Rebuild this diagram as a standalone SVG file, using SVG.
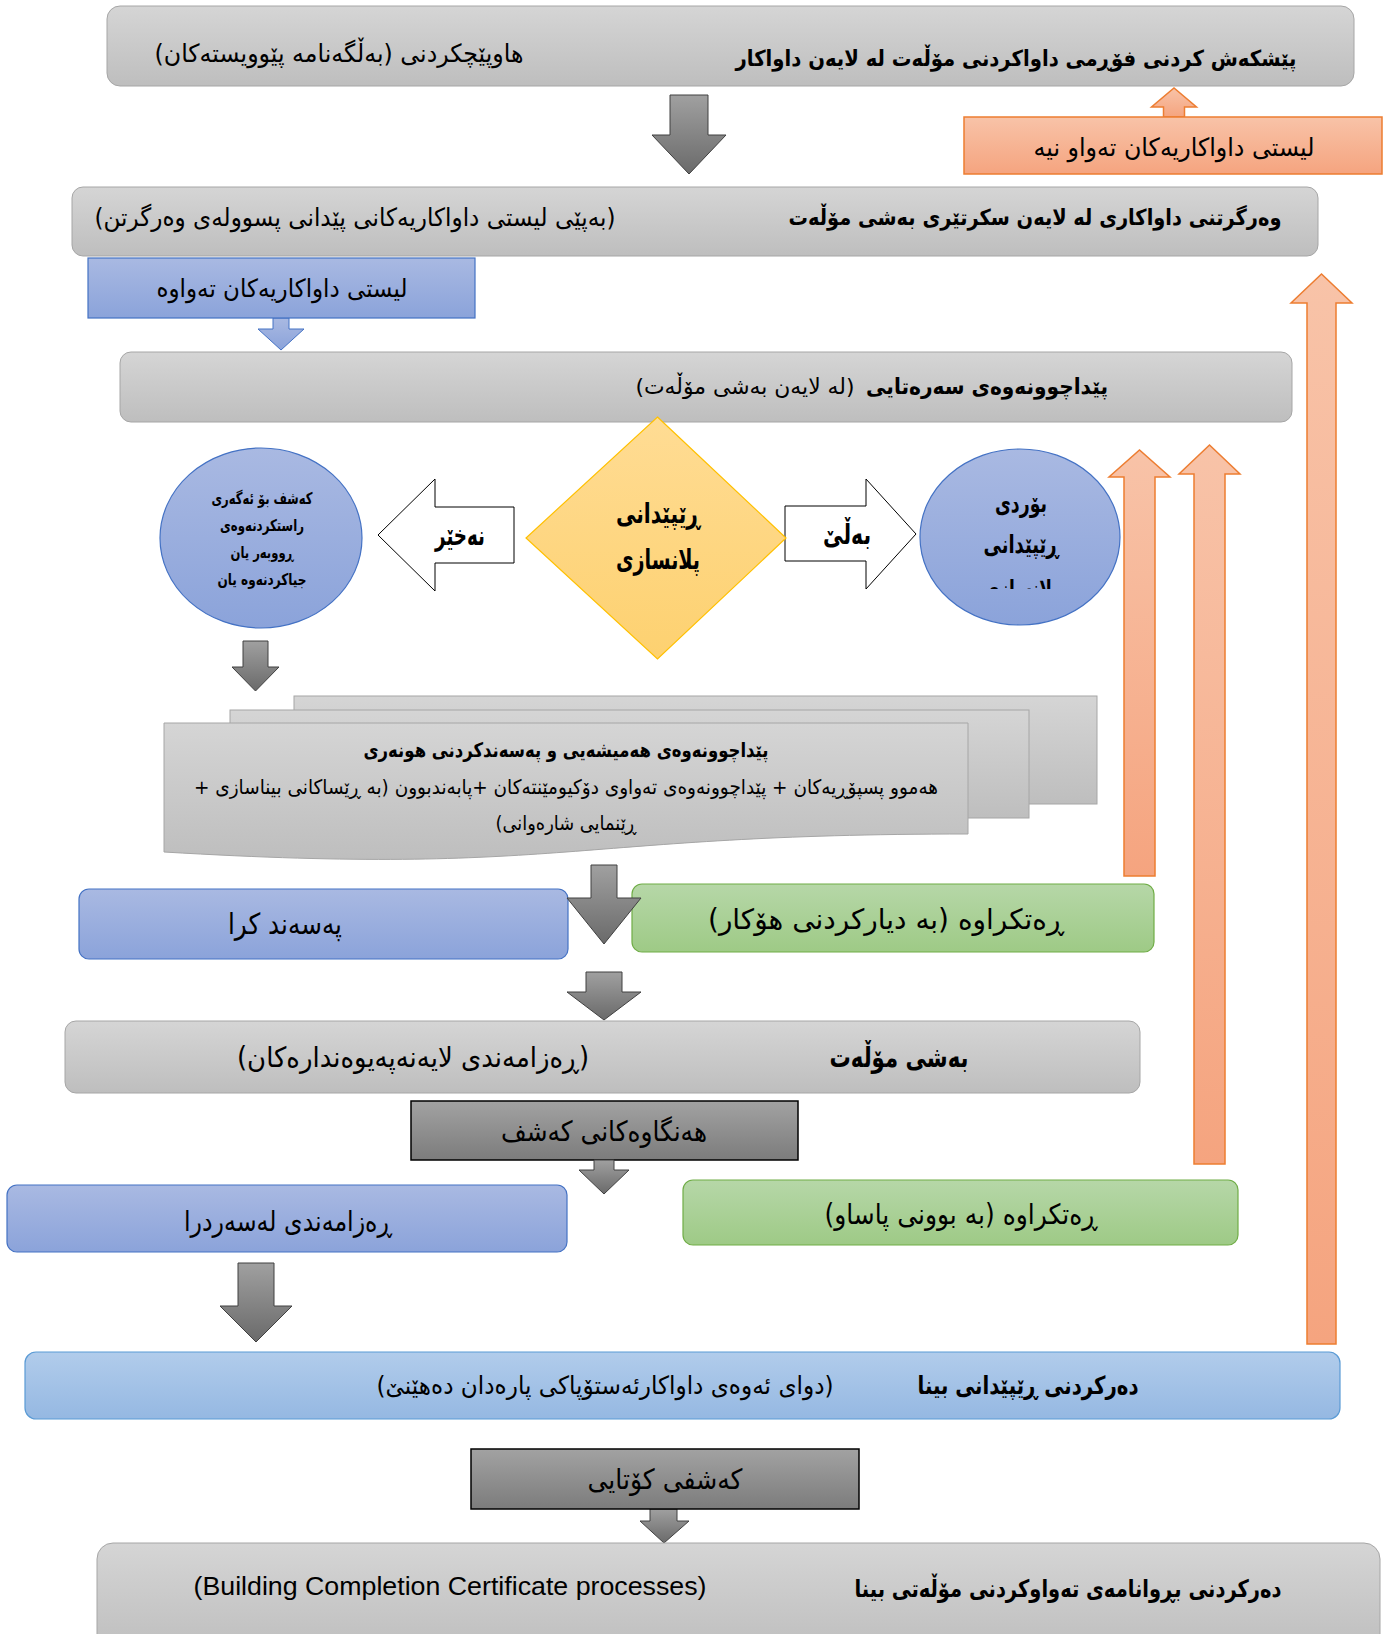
<svg xmlns="http://www.w3.org/2000/svg" width="1385" height="1634" viewBox="0 0 1385 1634">
<style>
.k{font-family:"DejaVu Sans",sans-serif;direction:rtl;text-anchor:middle;dominant-baseline:middle;fill:#000}
.b{font-weight:bold}
.gray{fill:url(#gGray);stroke:#A6A6A6;stroke-width:1}
.blue{fill:url(#gBlue);stroke:#4472C4;stroke-width:1.2}
.green{fill:url(#gGreen);stroke:#70AD47;stroke-width:1.2}
.dark{fill:url(#gDark);stroke:#000;stroke-width:1.5}
.garrow{fill:url(#gArrow);stroke:#404040;stroke-width:1}
.oarrow{fill:url(#gOrange);stroke:#ED7D31;stroke-width:1.5}
.warrow{fill:#fff;stroke:#000;stroke-width:1}
</style>
<defs>
<linearGradient id="gGray" x1="0" y1="0" x2="0" y2="1"><stop offset="0" stop-color="#D5D5D5"/><stop offset="1" stop-color="#BEBEBE"/></linearGradient>
<linearGradient id="gBlue" x1="0" y1="0" x2="0" y2="1"><stop offset="0" stop-color="#A9B9E2"/><stop offset="1" stop-color="#8BA3DA"/></linearGradient>
<linearGradient id="gLBlue" x1="0" y1="0" x2="0" y2="1"><stop offset="0" stop-color="#B1CCEB"/><stop offset="1" stop-color="#95B8E2"/></linearGradient>
<linearGradient id="gGreen" x1="0" y1="0" x2="0" y2="1"><stop offset="0" stop-color="#B6D7A8"/><stop offset="1" stop-color="#9ECA86"/></linearGradient>
<linearGradient id="gDark" x1="0" y1="0" x2="0" y2="1"><stop offset="0" stop-color="#A2A2A2"/><stop offset="1" stop-color="#7C7C7C"/></linearGradient>
<linearGradient id="gArrow" x1="0" y1="0" x2="0" y2="1"><stop offset="0" stop-color="#A0A0A0"/><stop offset="1" stop-color="#6A6A6A"/></linearGradient>
<linearGradient id="gOrange" x1="0" y1="0" x2="0" y2="1"><stop offset="0" stop-color="#F8C3A8"/><stop offset="1" stop-color="#F5A47F"/></linearGradient>
<linearGradient id="gYellow" x1="0" y1="0" x2="0" y2="1"><stop offset="0" stop-color="#FFDC94"/><stop offset="1" stop-color="#FDD170"/></linearGradient>
<clipPath id="cClip"><rect x="900" y="440" width="240" height="149"/></clipPath>
</defs>

<g id="connectors">
<polygon class="garrow" points="670,95 708,95 708,135 726,135 689,174 652,135 670,135"/>
<polygon class="oarrow" points="1163.5,117 1163.5,107 1151.5,107 1174,88 1196.5,107 1184.5,107 1184.5,117"/>
<polygon fill="url(#gBlue)" stroke="#4472C4" stroke-width="1" points="273,318 289,318 289,329 304,329 281,350 258,329 273,329"/>
<polygon class="warrow" points="514,507 435,507 435,479 378,535 435,591 435,563 514,563"/>
<polygon class="warrow" points="785,506 866,506 866,479 916,534 866,589 866,561 785,561"/>
<polygon class="garrow" points="243,641 268,641 268,667 279,667 255.5,691 232,667 243,667"/>
<polygon class="oarrow" points="1124,876 1124,477 1109,477 1139.5,450 1170,477 1155,477 1155,876"/>
<polygon class="oarrow" points="1194,1164 1194,474 1179,474 1209.5,445 1240,474 1225,474 1225,1164"/>
<polygon class="oarrow" points="1307,1344 1307,303 1291,303 1321.5,274 1352,303 1336,303 1336,1344"/>
</g>

<g id="n1">
<rect class="gray" x="107" y="6" width="1247" height="80" rx="13"/>
<text class="k b" x="1016" y="60" font-size="22" textLength="561" lengthAdjust="spacingAndGlyphs">پێشکەش کردنی فۆڕمی داواکردنی مۆڵەت لە لایەن داواکار</text>
<text class="k" x="339" y="55" font-size="25" textLength="369" lengthAdjust="spacingAndGlyphs">هاوپێچکردنی (بەڵگەنامە پێوویستەکان)</text>
</g>

<g id="n_incomplete">
<rect x="964" y="117" width="418" height="57" fill="url(#gOrange)" stroke="#ED7D31" stroke-width="1.5"/>
<text class="k" x="1174" y="149" font-size="25" textLength="281" lengthAdjust="spacingAndGlyphs">لیستی داواکاریەکان تەواو  نیە</text>
</g>

<g id="n2">
<rect class="gray" x="72" y="187" width="1246" height="69" rx="11"/>
<text class="k b" x="1035" y="219" font-size="22" textLength="493" lengthAdjust="spacingAndGlyphs">وەرگرتنی داواکاری لە لایەن سکرتێری بەشی مۆڵەت</text>
<text class="k" x="355" y="219" font-size="25" textLength="521" lengthAdjust="spacingAndGlyphs">(بەپێی لیستی داواکاریەکانی پێدانی پسوولەی وەرگرتن)</text>
</g>

<g id="n_complete">
<rect class="blue" x="88" y="258" width="387" height="60"/>
<text class="k" x="282" y="290" font-size="25" textLength="251" lengthAdjust="spacingAndGlyphs">لیستی داواکاریەکان تەواوە</text>
</g>

<g id="n3">
<rect class="gray" x="120" y="352" width="1172" height="70" rx="11"/>
<text class="k b" x="987" y="388" font-size="22" textLength="242" lengthAdjust="spacingAndGlyphs">پێداچوونەوەی سەرەتایی</text>
<text class="k" x="745" y="388" font-size="22" textLength="219" lengthAdjust="spacingAndGlyphs">(لە لایەن بەشی مۆڵەت)</text>
</g>

<g id="n_decision">
<polygon points="657.5,417 786,538 657.5,659 526,538" fill="url(#gYellow)" stroke="#FFC000" stroke-width="1.2"/>
<text class="k b" x="658" y="515" font-size="28" textLength="84" lengthAdjust="spacingAndGlyphs">ڕێپێدانی</text>
<text class="k b" x="658" y="561" font-size="28" textLength="84" lengthAdjust="spacingAndGlyphs">پلانسازی</text>
</g>

<g id="l_no"><text class="k b" x="460" y="537" font-size="28" textLength="50" lengthAdjust="spacingAndGlyphs">نەخێر</text></g>
<g id="l_yes"><text class="k b" x="847" y="536" font-size="28" textLength="48" lengthAdjust="spacingAndGlyphs">بەڵێ</text></g>

<g id="n_left_circle">
<ellipse cx="261" cy="538" rx="101" ry="90" class="blue"/>
<text class="k b" x="262" y="499" font-size="16" textLength="101" lengthAdjust="spacingAndGlyphs">کەشف بۆ ئەگەری</text>
<text class="k b" x="262" y="526" font-size="16" textLength="84" lengthAdjust="spacingAndGlyphs">راستکردنەوەی</text>
<text class="k b" x="262" y="553" font-size="16" textLength="63" lengthAdjust="spacingAndGlyphs">ڕووبەر یان</text>
<text class="k b" x="262" y="580" font-size="16" textLength="89" lengthAdjust="spacingAndGlyphs">جیاکردنەوە یان</text>
</g>

<g id="n_right_circle">
<ellipse cx="1020" cy="537" rx="100" ry="88" class="blue"/>
<g clip-path="url(#cClip)">
<text class="k b" x="1021" y="505" font-size="25" textLength="52" lengthAdjust="spacingAndGlyphs">بۆردی</text>
<text class="k b" x="1021" y="546" font-size="25" textLength="75" lengthAdjust="spacingAndGlyphs">ڕێپێدانی</text>
<text class="k b" x="1021" y="591" font-size="25" textLength="75" lengthAdjust="spacingAndGlyphs">پلانسازی</text>
</g>
</g>

<g id="n_docs">
<rect class="gray" x="294" y="696" width="803" height="108"/>
<rect class="gray" x="230" y="710" width="799" height="108"/>
<path class="gray" d="M164,723 H968 V834 C566,834 566,876 164,852 Z"/>
<text class="k b" x="566" y="751" font-size="20" textLength="405" lengthAdjust="spacingAndGlyphs">پێداچوونەوەی هەمیشەیی  و پەسەندکردنی هونەری</text>
<text class="k" x="566" y="788" font-size="20" textLength="744" lengthAdjust="spacingAndGlyphs">هەموو پسپۆڕیەکان + پێداچوونەوەی تەواوی دۆکیومێنتەکان +پابەندبوون (بە ڕێساکانی بیناسازی +</text>
<text class="k" x="566" y="824" font-size="20" textLength="141" lengthAdjust="spacingAndGlyphs">ڕێنمایی شارەوانی)</text>
</g>

<g id="n_approved">
<rect class="blue" x="79" y="889" width="489" height="70" rx="10"/>
<text class="k" x="285" y="926" font-size="29" textLength="114" lengthAdjust="spacingAndGlyphs">پەسەند کرا</text>
</g>

<g id="n_rejected1">
<rect class="green" x="632" y="884" width="522" height="68" rx="10"/>
<text class="k" x="886" y="921" font-size="28" textLength="356" lengthAdjust="spacingAndGlyphs">ڕەتکراوە (بە دیارکردنی هۆکار)</text>
</g>

<g id="connectors2">
<polygon class="garrow" points="591,865 617,865 617,898 641,898 604,944 567,898 591,898"/>
<polygon class="garrow" points="586,972 622,972 622,992 641,992 604,1020 567,992 586,992"/>
</g>

<g id="n_permit_dept">
<rect class="gray" x="65" y="1021" width="1075" height="72" rx="11"/>
<text class="k b" x="899" y="1059" font-size="28" textLength="139" lengthAdjust="spacingAndGlyphs">بەشی مۆڵەت</text>
<text class="k" x="413" y="1059" font-size="28" textLength="352" lengthAdjust="spacingAndGlyphs">(ڕەزامەندی لایەنەپەیوەندارەکان)</text>
</g>

<g id="n_inspection">
<rect class="dark" x="411" y="1101" width="387" height="59"/>
<text class="k" x="604" y="1133" font-size="28" textLength="206" lengthAdjust="spacingAndGlyphs">هەنگاوەکانی کەشف</text>
</g>

<g id="connectors3">
<polygon class="garrow" points="594,1160 614,1160 614,1170 629,1170 604,1194 579,1170 594,1170"/>
<polygon class="garrow" points="238,1263 274,1263 274,1306 292,1306 256,1342 220,1306 238,1306"/>
<polygon class="garrow" points="650,1509 677,1509 677,1521 689,1521 664,1543 640,1521 650,1521"/>
</g>

<g id="n_approval_given">
<rect class="blue" x="7" y="1185" width="560" height="67" rx="10"/>
<text class="k" x="288" y="1223" font-size="28" textLength="208" lengthAdjust="spacingAndGlyphs">ڕەزامەندی لەسەردرا</text>
</g>

<g id="n_rejected2">
<rect class="green" x="683" y="1180" width="555" height="65" rx="10"/>
<text class="k" x="961" y="1216" font-size="28" textLength="273" lengthAdjust="spacingAndGlyphs">ڕەتکراوە (بە بوونی پاساو)</text>
</g>

<g id="n_issue_permit">
<rect x="25" y="1352" width="1315" height="67" rx="11" fill="url(#gLBlue)" stroke="#5B9BD5" stroke-width="1.2"/>
<text class="k b" x="1028" y="1387" font-size="25" textLength="221" lengthAdjust="spacingAndGlyphs">دەرکردنی ڕێپێدانی بینا</text>
<text class="k" x="605" y="1387" font-size="25" textLength="457" lengthAdjust="spacingAndGlyphs">(دوای ئەوەی داواکارئەستۆپاکی پارەدان دەهێنێ)</text>
</g>

<g id="n_final_inspection">
<rect class="dark" x="471" y="1449" width="388" height="60"/>
<text class="k" x="665" y="1481" font-size="28" textLength="155" lengthAdjust="spacingAndGlyphs">کەشفی کۆتایی</text>
</g>

<g id="n_certificate">
<rect class="gray" x="97" y="1543" width="1283" height="110" rx="16"/>
<text x="450" y="1588" font-family="Liberation Sans, Arial, sans-serif" font-size="26" text-anchor="middle" dominant-baseline="middle" textLength="513" lengthAdjust="spacingAndGlyphs">(Building Completion Certificate processes)</text>
<text class="k b" x="1068" y="1590" font-size="24" textLength="427" lengthAdjust="spacingAndGlyphs">دەرکردنی بڕوانامەی تەواوکردنی مۆڵەتی بینا</text>
</g>
</svg>
